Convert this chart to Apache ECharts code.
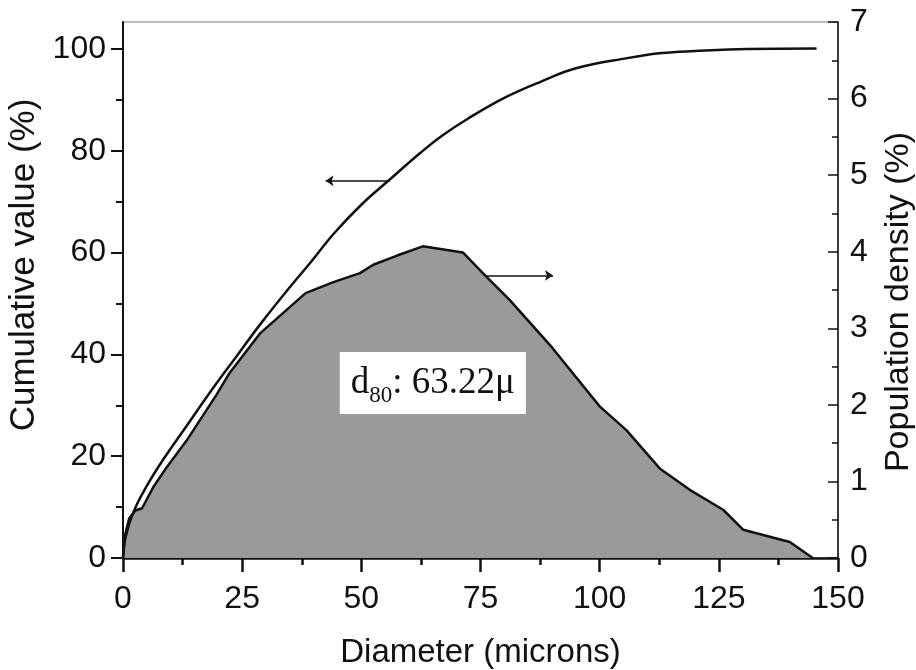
<!DOCTYPE html>
<html><head><meta charset="utf-8">
<script src="https://cdn.jsdelivr.net/npm/echarts@6/dist/echarts.min.js"></script>
<style>html,body{margin:0;padding:0;background:#fff}#c{width:916px;height:670px}</style>
</head><body><div id="c"></div>
<script>
// Cumulative curve (left axis, %)
const cumDiameter = [0, 0.4, 2.1, 4.9, 8.4, 13.3, 18.9, 23.8, 28.7, 34.3, 39.2, 44.3, 50, 55.9, 62.4, 67, 72.5, 80, 87.7, 95, 105.8, 113, 120, 131, 145.5];
const cumulative  = [0, 3.5, 8.8, 14, 19.3, 25.9, 33.4, 39.6, 45.8, 52.4, 57.9, 63.8, 69.4, 74.3, 79.6, 83, 86.4, 90.4, 93.6, 96.2, 98.2, 99.2, 99.6, 100, 100.1];
// Population density (right axis, %)
const denDiameter = [0, 0.5, 1.3, 2.6, 4, 6.3, 9.1, 13.3, 19.6, 22.4, 28.7, 38.3, 44, 49.7, 52.5, 57.5, 62.9, 71.3, 75.5, 81.1, 90, 100, 105.6, 112.6, 118.9, 125.9, 130.1, 139.9, 144.7];
const density     = [0, 0.32, 0.52, 0.62, 0.65, 0.92, 1.18, 1.53, 2.13, 2.42, 2.93, 3.46, 3.6, 3.72, 3.83, 3.95, 4.07, 3.99, 3.72, 3.37, 2.75, 1.98, 1.67, 1.17, 0.89, 0.63, 0.37, 0.21, 0];
// Tick values
const leftTicks = [0, 20, 40, 60, 80, 100];
const leftMinorTicks = [10, 30, 50, 70, 90];
// Annotations (data coordinates)
const cumArrow = [[55.9, 74.1], [42.5, 74.1]];
const denArrow = [[76.2, 3.69], [90.2, 3.69]];
const d80Value = '63.22';
const d80Pos = [65.0, 34.4];

const cumData = cumDiameter.map((x, i) => [x, cumulative[i]]);
const denData = denDiameter.map((x, i) => [x, density[i]]);

const FONT = '"Liberation Sans", Arial, sans-serif';
const SERIF = '"Liberation Serif", "Times New Roman", serif';
const INK = '#111';

const chart = echarts.init(document.getElementById('c'), null, {renderer: 'canvas'});
chart.setOption({
  backgroundColor: '#fff',
  animation: false,
  grid: {left: 123, right: 78, top: 22, bottom: 112, outerBoundsMode: 'none', containLabel: false,
         show: true, borderColor: '#777', borderWidth: 1, backgroundColor: 'transparent'},
  xAxis: {
    type: 'value', min: 0, max: 150, interval: 25,
    name: 'Diameter (microns)', nameLocation: 'middle', nameGap: 78,
    nameTextStyle: {fontFamily: FONT, fontSize: 33, color: INK},
    axisLine: {lineStyle: {color: INK, width: 2.5}},
    axisTick: {length: 14, lineStyle: {color: INK, width: 2.5}},
    minorTick: {show: true, splitNumber: 2, length: 7, lineStyle: {color: INK, width: 2.5}},
    axisLabel: {fontFamily: FONT, fontSize: 32, color: INK, margin: 25},
    splitLine: {show: false}, minorSplitLine: {show: false}
  },
  yAxis: [
    {
      type: 'value', min: 0, max: 105.3, position: 'left',
      name: 'Cumulative value (%)', nameLocation: 'middle', nameGap: 63,
      nameTextStyle: {fontFamily: FONT, fontSize: 35, color: INK, padding: [0, 0, 0, 50]},
      axisLine: {show: true, lineStyle: {color: INK, width: 2}},
      axisTick: {show: true, length: 12, customValues: leftTicks, lineStyle: {color: INK, width: 2}},
      axisLabel: {fontFamily: FONT, fontSize: 32, color: INK, margin: 17, customValues: leftTicks},
      splitLine: {show: false}
    },
    {
      type: 'value', min: 0, max: 105.3, position: 'left',
      axisLine: {show: false},
      axisTick: {show: true, length: 7, customValues: leftMinorTicks, lineStyle: {color: INK, width: 2}},
      axisLabel: {show: false},
      splitLine: {show: false}
    },
    {
      type: 'value', min: 0, max: 7, interval: 1, position: 'right',
      name: 'Population density (%)', nameLocation: 'middle', nameGap: 44, nameRotate: 90,
      nameTextStyle: {fontFamily: FONT, fontSize: 34, color: INK, padding: [0, 24, 0, 0]},
      axisLine: {show: true, lineStyle: {color: INK, width: 1.5}},
      axisTick: {show: true, inside: true, length: 10, lineStyle: {color: INK, width: 1.5}},
      minorTick: {show: true, splitNumber: 2, length: 6, lineStyle: {color: INK, width: 1.5}},
      axisLabel: {fontFamily: FONT, fontSize: 32, color: INK, margin: 12},
      splitLine: {show: false}, minorSplitLine: {show: false}
    }
  ],
  series: [
    {
      type: 'line', name: 'Population density', yAxisIndex: 2, data: denData,
      showSymbol: false, symbol: 'none', smooth: false,
      lineStyle: {color: INK, width: 2.5},
      areaStyle: {color: '#9a9a9a', opacity: 1},
      markLine: {
        silent: true, symbol: ['none', 'arrow'], symbolSize: 8,
        lineStyle: {color: INK, width: 1.5, type: 'solid'},
        label: {show: false},
        data: [[{coord: denArrow[0]}, {coord: denArrow[1]}]]
      },
      z: 2
    },
    {
      type: 'line', name: 'Cumulative', yAxisIndex: 0, data: cumData,
      showSymbol: false, symbol: 'none', smooth: 0.4,
      lineStyle: {color: INK, width: 2.5},
      markLine: {
        silent: true, symbol: ['none', 'arrow'], symbolSize: 8,
        lineStyle: {color: INK, width: 1.5, type: 'solid'},
        label: {show: false},
        data: [[{coord: cumArrow[0]}, {coord: cumArrow[1]}]]
      },
      markPoint: {
        silent: true, symbol: 'rect', symbolSize: 1,
        itemStyle: {color: 'transparent'},
        label: {
          show: true, position: 'inside',
          formatter: '{d|d}{s|80}{t|: ' + d80Value + 'μ}',
          backgroundColor: '#fff', padding: [11, 11, 11, 11],
          rich: {
            d: {fontFamily: SERIF, fontSize: 37, lineHeight: 40, color: INK},
            s: {fontFamily: SERIF, fontSize: 23, lineHeight: 22, verticalAlign: 'bottom', color: INK, padding: [0, 0, -5, 0]},
            t: {fontFamily: SERIF, fontSize: 37, lineHeight: 40, color: INK}
          }
        },
        data: [{coord: d80Pos}]
      },
      z: 3
    }
  ]
});
</script>
</body></html>
